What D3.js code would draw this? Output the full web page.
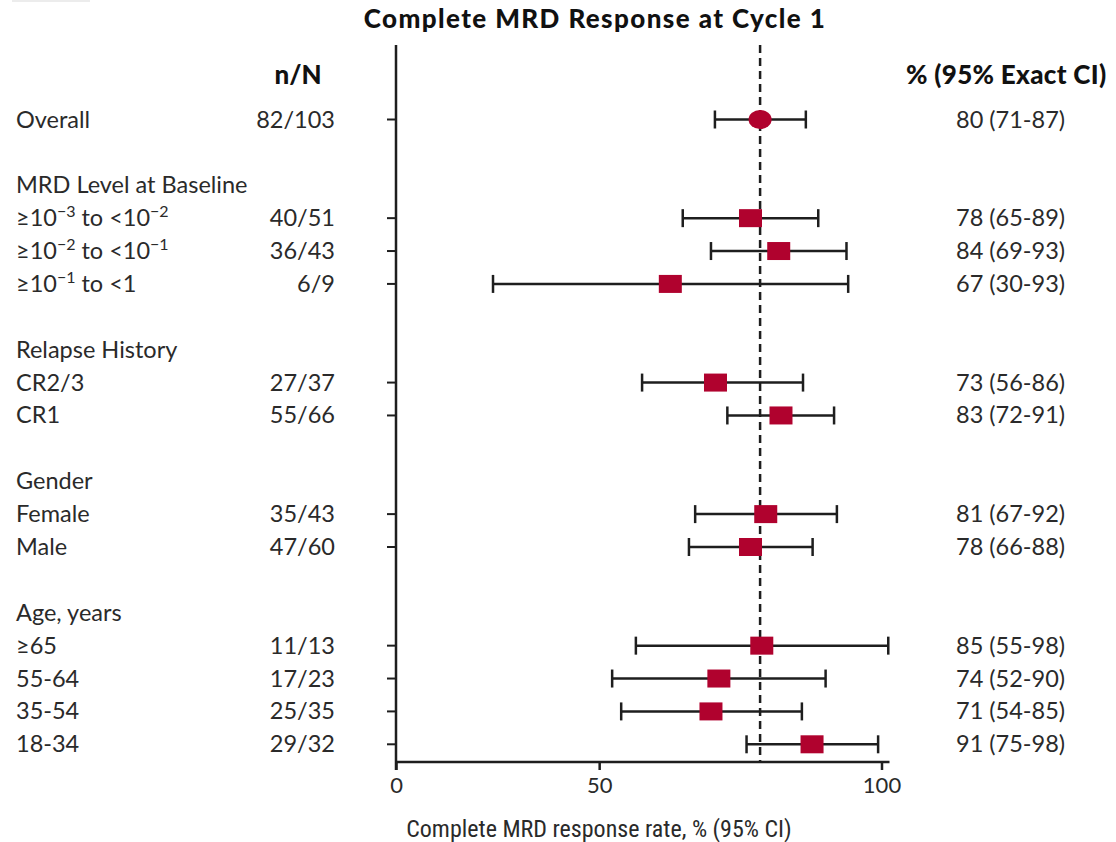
<!DOCTYPE html>
<html>
<head>
<meta charset="utf-8">
<script src="https://cdn.jsdelivr.net/npm/d3@7"></script>
<style>
  html, body { margin: 0; padding: 0; background: #fff; }
  svg { display: block; }
  text { font-family: Lato, "Noto Sans", sans-serif; fill: #2a2a2a; }
</style>
</head>
<body>
<svg id="chart" width="1116" height="842"></svg>
<script>
// ---------------- data ----------------
const rowIds = ["overall","b1","hMRD","mrd3","mrd2","mrd1","b2","hRel","cr23","cr1","b3","hGen","female","male","b4","hAge","a65","a55","a35","a18"];
const headerIds = ["hMRD","hRel","hGen","hAge"];
const headerLabels = ["MRD Level at Baseline","Relapse History","Gender","Age, years"];

const categoryIds = ["overall","mrd3","mrd2","mrd1","cr23","cr1","female","male","a65","a55","a35","a18"];
// label parts: [text, isSuperscript]
const categoryLabels = [
  [["Overall",false]],
  [["≥10",false],["−3",true],[" to <10",false],["−2",true]],
  [["≥10",false],["−2",true],[" to <10",false],["−1",true]],
  [["≥10",false],["−1",true],[" to <1",false]],
  [["CR2/3",false]],
  [["CR1",false]],
  [["Female",false]],
  [["Male",false]],
  [["≥65",false]],
  [["55-64",false]],
  [["35-54",false]],
  [["18-34",false]]
];
const nOverN = ["82/103","40/51","36/43","6/9","27/37","55/66","35/43","47/60","11/13","17/23","25/35","29/32"];
const ciLabels = ["80 (71-87)","78 (65-89)","84 (69-93)","67 (30-93)","73 (56-86)","83 (72-91)","81 (67-92)","78 (66-88)","85 (55-98)","74 (52-90)","71 (54-85)","91 (75-98)"];
// plotted positions
const estimate = [78.5, 76.8, 81.8, 62.6, 70.6, 82.2, 79.5, 76.8, 78.8, 71.2, 69.8, 87.7];
const lower    = [70.5, 64.8, 69.8, 31.2, 57.6, 72.7, 67.0, 65.9, 56.5, 52.3, 53.9, 76.1];
const upper    = [86.6, 88.8, 93.8, 94.1, 86.1, 91.6, 92.1, 87.8, 101.2, 90.1, 85.9, 99.4];
const referenceValue = 78.5;
const xTicks = [0, 50, 100];

const title = "Complete MRD Response at Cycle 1";
const xTitle = "Complete MRD response rate, % (95% CI)";

// ---------------- layout ----------------
const svg = d3.select("#chart");
const axisX = 396, axisTop = 45, axisBottom = 762;
const red = "#b0022e", ink = "#1e1e1e";
const fs = "23.5px";

// broken axis: 0..25 compressed, 25..100 linear
const x = d3.scaleLinear().domain([0, 25, 100]).range([axisX, 458, 881.5]);
const y = d3.scalePoint().domain(rowIds).range([119.5, 744.3]);

// faint artifact at top-left
svg.append("rect").attr("x", 12).attr("y", 0).attr("width", 78).attr("height", 2).attr("fill", "#ececec");

// title
svg.append("text").attr("x", 595).attr("y", 28).attr("text-anchor", "middle")
  .style("font-weight", 900).style("font-size", "26px").style("letter-spacing", "1.4px")
  .style("fill", "#111").text(title);

// column headers
svg.append("text").attr("x", 298).attr("y", 84).attr("text-anchor", "middle")
  .style("font-weight", 900).style("font-size", "26px").style("fill", "#111").text("n/N");
svg.append("text").attr("x", 906).attr("y", 84)
  .style("font-weight", 900).style("font-size", "26px").style("letter-spacing", "0.3px")
  .style("fill", "#111").text("% (95% Exact CI)");

// group headers
svg.selectAll("text.hdr").data(headerIds).join("text").attr("class", "hdr")
  .attr("x", 16).attr("y", d => y(d) + 8)
  .style("font-size", fs)
  .text((d, i) => headerLabels[i]);

// row labels
const rl = svg.selectAll("text.rl").data(categoryIds).join("text").attr("class", "rl")
  .attr("x", 16).attr("y", d => y(d) + 8).style("font-size", fs);
rl.each(function(d, i) {
  const t = d3.select(this);
  categoryLabels[i].forEach(([s, sup], k) => {
    const ts = t.append("tspan").text(s);
    if (sup) ts.attr("dy", -9).style("font-size", "16px");
    else if (k > 0) ts.attr("dy", 9);
  });
});

// n/N
svg.selectAll("text.nn").data(categoryIds).join("text").attr("class", "nn")
  .attr("x", 335).attr("y", d => y(d) + 8).attr("text-anchor", "end")
  .style("font-size", fs).text((d, i) => nOverN[i]);

// CI labels
svg.selectAll("text.ci").data(categoryIds).join("text").attr("class", "ci")
  .attr("x", 956).attr("y", d => y(d) + 8)
  .style("font-size", fs).text((d, i) => ciLabels[i]);

// vertical axis with row ticks
svg.append("line").attr("x1", axisX).attr("x2", axisX).attr("y1", axisTop).attr("y2", axisBottom + 8)
  .attr("stroke", ink).attr("stroke-width", 2.5);
svg.selectAll("line.ytick").data(categoryIds).join("line").attr("class", "ytick")
  .attr("x1", axisX - 9).attr("x2", axisX).attr("y1", d => y(d)).attr("y2", d => y(d))
  .attr("stroke", ink).attr("stroke-width", 2);

// x axis
const xAxis = d3.axisBottom(x).tickValues(xTicks).tickSize(8).tickPadding(7).tickFormat(d3.format("d"));
const gx = svg.append("g").attr("transform", `translate(0,${axisBottom})`).call(xAxis);
gx.select(".domain").attr("d", `M${axisX},0H${x(100) + 8}`).attr("stroke", ink).attr("stroke-width", 2.5);
gx.selectAll(".tick line").attr("stroke", ink).attr("stroke-width", 2.5);
gx.selectAll(".tick text").style("font-family", "Lato, 'Noto Sans', sans-serif")
  .style("font-size", "22px").attr("fill", "#2a2a2a");

svg.append("text").attr("x", 599).attr("y", 837).attr("text-anchor", "middle")
  .style("font-family", "'Liberation Sans Narrow', 'Roboto Condensed', sans-serif")
  .style("font-size", "24px").text(xTitle);

// reference dashed line
svg.append("line").attr("x1", x(referenceValue)).attr("x2", x(referenceValue))
  .attr("y1", axisTop).attr("y2", axisBottom)
  .attr("stroke", ink).attr("stroke-width", 2.5).attr("stroke-dasharray", "8,5");

// whiskers
const rows = categoryIds.map((id, i) => ({id, i, est: estimate[i], lo: lower[i], hi: upper[i]}));
const eb = svg.append("g");
eb.selectAll("line.w").data(rows).join("line").attr("class", "w")
  .attr("x1", d => x(d.lo)).attr("x2", d => x(d.hi)).attr("y1", d => y(d.id)).attr("y2", d => y(d.id))
  .attr("stroke", ink).attr("stroke-width", 2.5);
eb.selectAll("line.cl").data(rows).join("line").attr("class", "cl")
  .attr("x1", d => x(d.lo)).attr("x2", d => x(d.lo)).attr("y1", d => y(d.id) - 9).attr("y2", d => y(d.id) + 9)
  .attr("stroke", ink).attr("stroke-width", 2.5);
eb.selectAll("line.ch").data(rows).join("line").attr("class", "ch")
  .attr("x1", d => x(d.hi)).attr("x2", d => x(d.hi)).attr("y1", d => y(d.id) - 9).attr("y2", d => y(d.id) + 9)
  .attr("stroke", ink).attr("stroke-width", 2.5);

// markers: ellipse for overall, squares for subgroups
svg.selectAll("ellipse.pt").data(rows.filter(d => d.id === "overall")).join("ellipse").attr("class", "pt")
  .attr("cx", d => x(d.est)).attr("cy", d => y(d.id)).attr("rx", 11.5).attr("ry", 9.5).attr("fill", red);
svg.selectAll("rect.pt").data(rows.filter(d => d.id !== "overall")).join("rect").attr("class", "pt")
  .attr("x", d => x(d.est) - 11.5).attr("y", d => y(d.id) - 9).attr("width", 23).attr("height", 18).attr("fill", red);
</script>
</body>
</html>
